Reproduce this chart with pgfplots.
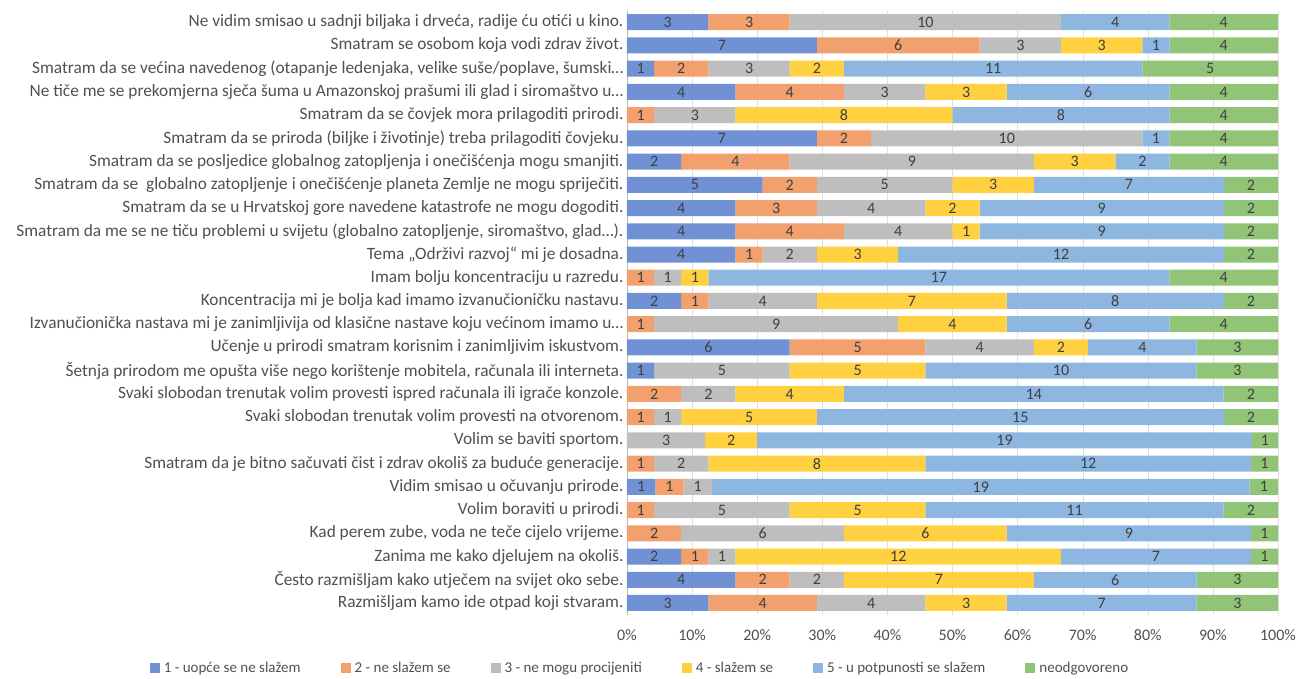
\documentclass[border=0pt]{standalone}
\usepackage{fontspec}
\setmainfont{Carlito}
\usepackage{pgfplots}
\usepackage{pgfplotstable}
\pgfplotsset{compat=1.18}
\definecolor{c1}{RGB}{112,146,212}
\definecolor{c2}{RGB}{241,160,110}
\definecolor{c3}{RGB}{190,190,190}
\definecolor{c4}{RGB}{255,208,64}
\definecolor{c5}{RGB}{141,182,225}
\definecolor{c6}{RGB}{146,196,120}
\definecolor{txt}{RGB}{80,80,80}
\definecolor{lab}{RGB}{64,64,64}

% counts per answer; n = number of answers in the row
\pgfplotstableread{
y a b c d e f n
25 3 3 10 0 4 4 24
24 7 6 3 3 1 4 24
23 1 2 3 2 11 5 24
22 4 4 3 3 6 4 24
21 0 1 3 8 8 4 24
20 7 2 10 0 1 4 24
19 2 4 9 3 2 4 24
18 5 2 5 3 7 2 24
17 4 3 4 2 9 2 24
16 4 4 4 1 9 2 24
15 4 1 2 3 12 2 24
14 0 1 1 1 17 4 24
13 2 1 4 7 8 2 24
12 0 1 9 4 6 4 24
11 6 5 4 2 4 3 24
10 1 0 5 5 10 3 24
9 0 2 2 4 14 2 24
8 0 1 1 5 15 2 24
7 0 0 3 2 19 1 25
6 0 1 2 8 12 1 24
5 1 1 1 0 19 1 23
4 0 1 5 5 11 2 24
3 0 2 6 6 9 1 24
2 2 1 1 12 7 1 24
1 4 2 2 7 6 3 24
0 3 4 4 3 7 3 24
}\data

\pgfplotsset{
  base/.style={scale only axis, width=651pt, height=604pt,
    xmin=0, xmax=100, ymin=-0.5, ymax=25.5},
  sq/.style={legend image code/.code={\fill[##1] (0pt,-5pt) rectangle (10pt,5pt);}},
}
\newcommand{\seg}[2]{\addplot[fill=#2, draw=none, sq] table[y=y, x expr={\thisrow{#1}/\thisrow{n}*100}] {\data};}
\newcommand{\lab}[2]{\addplot[draw=none, mark=none, nodes near coords, point meta=\thisrow{#1}, restrict x to domain=0:100] table[y=y, x expr={\thisrow{#1}>0 ? (#2+0.5*\thisrow{#1})/\thisrow{n}*100 : -50}] {\data};}

\begin{document}
\begin{tikzpicture}
\useasboundingbox (-627pt,-64.4pt) rectangle (673pt,614.6pt);
\begin{axis}[base, xbar stacked, bar width=16pt,
  axis x line*=bottom, axis y line*=left,
  x axis line style={draw=none}, y axis line style={draw=gray!55},
  xmajorgrids, grid style={draw=gray!25},
  major tick length=0pt,
  xtick={0,10,20,30,40,50,60,70,80,90,100},
  xticklabels={0\%,10\%,20\%,30\%,40\%,50\%,60\%,70\%,80\%,90\%,100\%},
  ytick={0,1,...,25},
  yticklabels={
    {Razmišljam kamo ide otpad koji stvaram.},
    {Često razmišljam kako utječem na svijet oko sebe.},
    {Zanima me kako djelujem na okoliš.},
    {Kad perem zube, voda ne teče cijelo vrijeme.},
    {Volim boraviti u prirodi.},
    {Vidim smisao u očuvanju prirode.},
    {Smatram da je bitno sačuvati čist i zdrav okoliš za buduće generacije.},
    {Volim se baviti sportom.},
    {Svaki slobodan trenutak volim provesti na otvorenom.},
    {Svaki slobodan trenutak volim provesti ispred računala ili igrače konzole.},
    {Šetnja prirodom me opušta više nego korištenje mobitela, računala ili interneta.},
    {Učenje u prirodi smatram korisnim i zanimljivim iskustvom.},
    {Izvanučionička nastava mi je zanimljivija od klasične nastave koju većinom imamo u…},
    {Koncentracija mi je bolja kad imamo izvanučioničku nastavu.},
    {Imam bolju koncentraciju u razredu.},
    {Tema „Održivi razvoj“ mi je dosadna.},
    {Smatram da me se ne tiču problemi u svijetu (globalno zatopljenje, siromaštvo, glad…).},
    {Smatram da se u Hrvatskoj gore navedene katastrofe ne mogu dogoditi.},
    {Smatram da se \ globalno zatopljenje i onečišćenje planeta Zemlje ne mogu spriječiti.},
    {Smatram da se posljedice globalnog zatopljenja i onečišćenja mogu smanjiti.},
    {Smatram da se priroda (biljke i životinje) treba prilagoditi čovjeku.},
    {Smatram da se čovjek mora prilagoditi prirodi.},
    {Ne tiče me se prekomjerna sječa šuma u Amazonskoj prašumi ili glad i siromaštvo u…},
    {Smatram da se većina navedenog (otapanje ledenjaka, velike suše/poplave, šumski…},
    {Smatram se osobom koja vodi zdrav život.},
    {Ne vidim smisao u sadnji biljaka i drveća, radije ću otići u kino.}},
  ticklabel style={text=txt},
  yticklabel style={font=\fontsize{17.3}{19}\selectfont},
  xticklabel style={font=\fontsize{16}{18}\selectfont},
  xticklabel shift=11pt,
  legend columns=6,
  legend style={at={(0.02,-0.089)}, anchor=center, draw=none, fill=none,
    font=\fontsize{15}{17}\selectfont, text=txt,
    /tikz/every odd column/.append style={column sep=2pt},
    /tikz/every even column/.append style={column sep=38pt}},
]
\seg{a}{c1}
\seg{b}{c2}
\seg{c}{c3}
\seg{d}{c4}
\seg{e}{c5}
\seg{f}{c6}
\legend{1 - uopće se ne slažem, 2 - ne slažem se, 3 - ne mogu procijeniti, 4 - slažem se, 5 - u potpunosti se slažem, neodgovoreno}
\end{axis}
\begin{axis}[base, hide axis,
  /pgf/number format/assume math mode=true,
  every node near coord/.append style={anchor=center, font=\fontsize{16}{18}\selectfont, text=lab}]
\lab{a}{0}
\lab{b}{\thisrow{a}}
\lab{c}{\thisrow{a}+\thisrow{b}}
\lab{d}{\thisrow{a}+\thisrow{b}+\thisrow{c}}
\lab{e}{\thisrow{a}+\thisrow{b}+\thisrow{c}+\thisrow{d}}
\lab{f}{\thisrow{a}+\thisrow{b}+\thisrow{c}+\thisrow{d}+\thisrow{e}}
\end{axis}
\end{tikzpicture}
\end{document}
